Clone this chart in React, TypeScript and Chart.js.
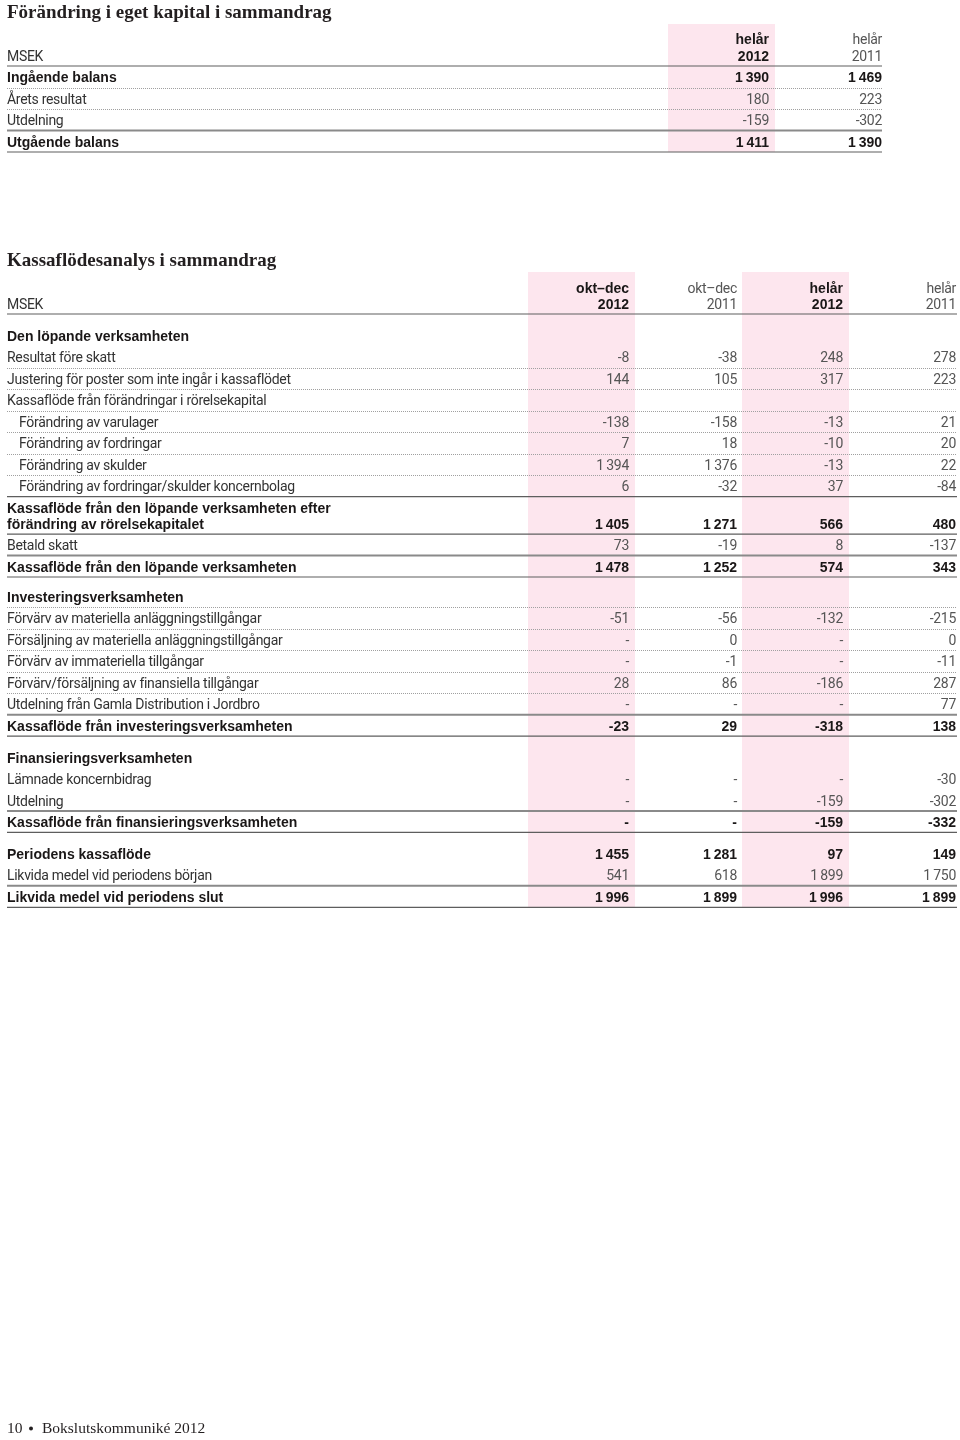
import React, { useEffect, useRef } from "react";
import { Chart, registerables } from "chart.js";

Chart.register(...registerables);

// ---------- DATA ----------
const equityTitle = "Förändring i eget kapital i sammandrag";
const equityHeadTop = ["helår", "helår"];
const equityHeadBottom = ["2012", "2011"];
const equityLabels = ["Ingående balans", "Årets resultat", "Utdelning", "Utgående balans"];
const equityBold = [true, false, false, true];
const equity2012 = [1390, 180, -159, 1411];
const equity2011 = [1469, 223, -302, 1390];

const cashTitle = "Kassaflödesanalys i sammandrag";
const cashHeadTop = ["okt–dec", "okt–dec", "helår", "helår"];
const cashHeadBottom = ["2012", "2011", "2012", "2011"];
const cashLabels = [
  "Den löpande verksamheten",
  "Resultat före skatt",
  "Justering för poster som inte ingår i kassaflödet",
  "Kassaflöde från förändringar i rörelsekapital",
  "Förändring av varulager",
  "Förändring av fordringar",
  "Förändring av skulder",
  "Förändring av fordringar/skulder koncernbolag",
  "Kassaflöde från den löpande verksamheten efter\nförändring av rörelsekapitalet",
  "Betald skatt",
  "Kassaflöde från den löpande verksamheten",
  "Investeringsverksamheten",
  "Förvärv av materiella anläggningstillgångar",
  "Försäljning av materiella anläggningstillgångar",
  "Förvärv av immateriella tillgångar",
  "Förvärv/försäljning av finansiella tillgångar",
  "Utdelning från Gamla Distribution i Jordbro",
  "Kassaflöde från investeringsverksamheten",
  "Finansieringsverksamheten",
  "Lämnade koncernbidrag",
  "Utdelning",
  "Kassaflöde från finansieringsverksamheten",
  "Periodens kassaflöde",
  "Likvida medel vid periodens början",
  "Likvida medel vid periodens slut",
];
// kind: head = bold label without values, text = label without values, item, sub (indented), total (bold)
const cashKinds = [
  "head", "item", "item", "text", "sub", "sub", "sub", "sub",
  "total", "item", "total",
  "head", "item", "item", "item", "item", "item", "total",
  "head", "item", "item", "total",
  "total", "item", "total",
];
// null = "-"
const cashOktDec2012 = [null, -8, 144, null, -138, 7, 1394, 6, 1405, 73, 1478, null, -51, null, null, 28, null, -23, null, null, null, null, 1455, 541, 1996];
const cashOktDec2011 = [null, -38, 105, null, -158, 18, 1376, -32, 1271, -19, 1252, null, -56, 0, -1, 86, null, 29, null, null, null, null, 1281, 618, 1899];
const cashHelar2012 = [null, 248, 317, null, -13, -10, -13, 37, 566, 8, 574, null, -132, null, null, -186, null, -318, null, null, -159, -159, 97, 1899, 1996];
const cashHelar2011 = [null, 278, 223, null, 21, 20, 22, -84, 480, -137, 343, null, -215, 0, -11, 287, 77, 138, null, -30, -302, -332, 149, 1750, 1899];

const footerText = "Bokslutskommuniké 2012";
const pageNumber = "10";

// ---------- LAYOUT ----------
const W = 960;
const H = 1440;
const LEFT = 7;
const INDENT = 19;
const PITCH = 21.45;
const equityCols = [769, 882];
const equityPink = [0];
const equityRight = 882;
const cashCols = [629, 737, 843, 956];
const cashPink = [0, 2];
const cashRight = 957;
const COL_W = 107;
// gap before each cash row, and rule after
const cashGap = [0, 0, 0, 0, 0, 0, 0, 0, 16, 0, 0, 9, 0, 0, 0, 0, 0, 0, 10.5, 0, 0, 0, 10.5, 0, 0];
const cashRule = [
  "none", "dot", "dot", "dot", "dot", "dot", "dot", "solid",
  "solid", "thick", "solid",
  "dot", "dot", "dot", "dot", "dot", "thick", "solid",
  "none", "none", "thick", "solid",
  "none", "thick", "solid",
];
const equityRule = ["dot", "dot", "thick", "solid"];

const SANS = 'Roboto, "Liberation Sans", Arial, sans-serif';
const SANS_B = '"Liberation Sans", Arial, sans-serif';
const SERIF = '"Liberation Serif", "DejaVu Serif", serif';
const F_REG = `400 14px ${SANS}`;
const F_BOLD = `700 14px ${SANS_B}`;
const LS_REG = "-0.3px";
const LS_BOLD = "0px";
const C_TEXT = "#333333";
const C_NUM = "#555555";
const C_BOLD = "#1a1717";
const PINK = "#fde6ee";

function fmt(v: number | null): string {
  if (v === null) return "-";
  const neg = v < 0;
  const s = Math.abs(v).toString();
  const withSep = s.replace(/\B(?=(\d{3})+(?!\d))/g, "\u2009");
  return (neg ? "-" : "") + withSep;
}

function cashRowY(): number[] {
  const ys: number[] = [];
  let y = 336;
  for (let i = 0; i < cashLabels.length; i++) {
    if (i > 0) y += PITCH + cashGap[i];
    ys.push(y);
  }
  return ys;
}
function equityRowY(): number[] {
  return equityLabels.map((_, i) => 77 + i * 21.5);
}

export default function App() {
  const ref = useRef<HTMLCanvasElement | null>(null);
  useEffect(() => {
    if (!ref.current) return;
    const cy = cashRowY();
    const ey = equityRowY();
    const cashSeries = [cashOktDec2012, cashOktDec2011, cashHelar2012, cashHelar2011];
    const eqSeries = [equity2012, equity2011];

    const datasets: any[] = [];
    eqSeries.forEach((vals, c) => {
      datasets.push({
        label: "eq" + c,
        data: vals.map((v, i) => ({ x: equityCols[c], y: ey[i], v, bold: equityBold[i] })),
        pointRadius: 0,
        showLine: false,
      });
    });
    cashSeries.forEach((vals, c) => {
      datasets.push({
        label: "cash" + c,
        data: vals
          .map((v, i) => ({ x: cashCols[c], y: cy[i], v, kind: cashKinds[i] }))
          .filter((d) => d.kind !== "head" && d.kind !== "text"),
        pointRadius: 0,
        showLine: false,
      });
    });

    const setFont = (ctx: any, bold: boolean) => {
      ctx.font = bold ? F_BOLD : F_REG;
      ctx.letterSpacing = bold ? LS_BOLD : LS_REG;
    };

    const tablePlugin = {
      id: "tablePlugin",
      beforeDatasetsDraw(chart: any) {
        const ctx = chart.ctx as any;
        const xs = chart.scales.x;
        const ys = chart.scales.y;
        const px = (v: number) => xs.getPixelForValue(v);
        const py = (v: number) => ys.getPixelForValue(v);
        ctx.save();
        // pink bands
        ctx.fillStyle = PINK;
        equityPink.forEach((c) => {
          const x1 = px(equityCols[c] - COL_W + 6);
          const x2 = px(equityCols[c] + 6);
          ctx.fillRect(x1, py(24), x2 - x1, py(ey[ey.length - 1] + 10.5) - py(24));
        });
        cashPink.forEach((c) => {
          const x1 = px(cashCols[c] - COL_W + 6);
          const x2 = px(cashCols[c] + 6);
          ctx.fillRect(x1, py(272), x2 - x1, py(cy[cy.length - 1] + 10.5) - py(272));
        });

        const rule = (y: number, x1: number, x2: number, kind: string) => {
          if (kind === "none") return;
          ctx.beginPath();
          if (kind === "dot") {
            ctx.setLineDash([1, 1]);
            ctx.strokeStyle = "#a0a0a0";
            ctx.lineWidth = 1;
            const yy = Math.round(py(y)) + 0.5;
            ctx.moveTo(px(x1), yy);
            ctx.lineTo(px(x2), yy);
          } else {
            ctx.setLineDash([]);
            ctx.strokeStyle = kind === "thick" ? "#8a8a8a" : "#5e5e5e";
            ctx.lineWidth = kind === "thick" ? 2 : 1.2;
            const yy = py(y);
            ctx.moveTo(px(x1), yy);
            ctx.lineTo(px(x2), yy);
          }
          ctx.stroke();
        };

        rule(66, LEFT, equityRight, "solid");
        ey.forEach((y, i) => rule(y + 10.5, LEFT, equityRight, equityRule[i]));
        rule(314, LEFT, cashRight, "solid");
        cy.forEach((y, i) => rule(y + 10.5, LEFT, cashRight, cashRule[i]));
        ctx.setLineDash([]);

        const text = (s: string, x: number, y: number, bold: boolean, color: string, align: CanvasTextAlign = "left", font?: string) => {
          if (font) {
            ctx.font = font;
            ctx.letterSpacing = "0px";
          } else setFont(ctx, bold);
          ctx.fillStyle = color;
          ctx.textAlign = align;
          ctx.textBaseline = "alphabetic";
          ctx.fillText(s, px(x), py(y));
        };

        // titles
        const TF = `600 19px ${SERIF}`;
        text(equityTitle, LEFT, 18, false, "#231f20", "left", TF);
        text(cashTitle, LEFT, 266, false, "#231f20", "left", TF);

        const BL = 5;
        text("MSEK", LEFT, 56 + BL, false, C_TEXT);
        equityCols.forEach((x, c) => {
          const b = equityPink.includes(c);
          text(equityHeadTop[c], x, 39 + BL, b, b ? C_BOLD : C_NUM, "right");
          text(equityHeadBottom[c], x, 56 + BL, b, b ? C_BOLD : C_NUM, "right");
        });
        text("MSEK", LEFT, 304 + BL, false, C_TEXT);
        cashCols.forEach((x, c) => {
          const b = cashPink.includes(c);
          text(cashHeadTop[c], x, 288 + BL, b, b ? C_BOLD : C_NUM, "right");
          text(cashHeadBottom[c], x, 304 + BL, b, b ? C_BOLD : C_NUM, "right");
        });

        equityLabels.forEach((l, i) => {
          text(l, LEFT, ey[i] + BL, equityBold[i], equityBold[i] ? C_BOLD : C_TEXT);
        });
        cashLabels.forEach((l, i) => {
          const k = cashKinds[i];
          const bold = k === "head" || k === "total";
          const lines = l.split("\n");
          lines.forEach((ln, j) => {
            const y = cy[i] - (lines.length - 1 - j) * 16;
            text(ln, k === "sub" ? INDENT : LEFT, y + BL, bold, bold ? C_BOLD : C_TEXT);
          });
        });

        // footer
        const FF = `15.5px ${SERIF}`;
        text(pageNumber, LEFT, 1433, false, "#231f20", "left", FF);
        ctx.fillStyle = "#231f20";
        ctx.beginPath();
        ctx.arc(px(31), py(1428.5), 2, 0, Math.PI * 2);
        ctx.fill();
        text(footerText, 42, 1433, false, "#231f20", "left", FF);
        ctx.restore();
      },
      afterDatasetsDraw(chart: any) {
        const ctx = chart.ctx as any;
        ctx.save();
        chart.data.datasets.forEach((ds: any, di: number) => {
          const meta = chart.getDatasetMeta(di);
          meta.data.forEach((el: any, i: number) => {
            const d = ds.data[i];
            const bold = d.bold === true || d.kind === "total";
            setFont(ctx, bold);
            ctx.fillStyle = bold ? C_BOLD : C_NUM;
            ctx.textAlign = "right";
            ctx.textBaseline = "alphabetic";
            ctx.fillText(fmt(d.v), el.x, el.y + 5);
          });
        });
        ctx.restore();
      },
    };

    const chart = new Chart(ref.current, {
      type: "scatter",
      data: { datasets },
      options: {
        animation: false,
        responsive: false,
        devicePixelRatio: 1,
        layout: { padding: 0 },
        events: [],
        scales: {
          x: { type: "linear", min: 0, max: W, display: false },
          y: { type: "linear", min: 0, max: H, reverse: true, display: false },
        },
        plugins: { legend: { display: false }, tooltip: { enabled: false } },
      },
      plugins: [tablePlugin],
    });
    return () => chart.destroy();
  }, []);

  return (
    <div style={{ position: "absolute", left: 0, top: 0, width: W, height: H, background: "#fff" }}>
      <canvas ref={ref} width={W} height={H} style={{ width: W, height: H, display: "block" }} />
    </div>
  );
}
